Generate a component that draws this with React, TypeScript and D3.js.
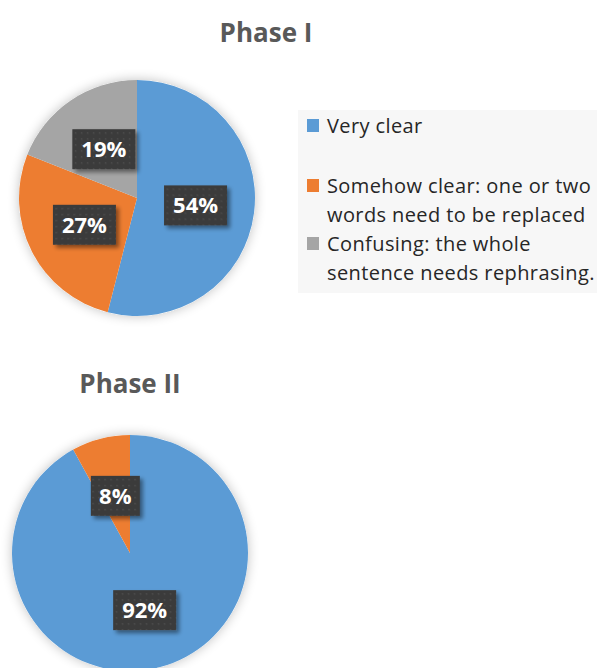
import React from "react";
import * as d3 from "d3";

const categories = [
  "Very clear",
  "Somehow clear: one or two words need to be replaced",
  "Confusing: the whole sentence needs rephrasing.",
];
const legendLines = [
  ["Very clear"],
  ["Somehow clear: one or two", "words need to be replaced"],
  ["Confusing: the whole", "sentence needs rephrasing."],
];
const colors = ["#5b9bd5", "#ed7d31", "#a5a5a5"];
const phase1Values = [54, 27, 19];
const phase2Values = [92, 8, 0];
const titles = ["Phase I", "Phase II"];

const W = 597;
const H = 668;

function Pie({ values, cx, cy, r }: { values: number[]; cx: number; cy: number; r: number }) {
  const pie = d3.pie<number>().sort(null).value((d) => d)(values);
  const arc = d3.arc<d3.PieArcDatum<number>>().innerRadius(0).outerRadius(r);
  return (
    <g transform={`translate(${cx},${cy})`}>
      <circle r={r} fill="#fff" filter="url(#pieShadow)" />
      {pie.map((p, i) =>
        p.value > 0 ? <path key={i} d={arc(p) || ""} fill={colors[i]} /> : null
      )}
      {pie.map((p, i) => {
        if (p.value <= 0) return null;
        const [x, y] = arc.centroid(p);
        const label = `${p.value}%`;
        const bw = label.length === 2 ? 49 : 63;
        const bh = 40;
        return (
          <g key={"l" + i} transform={`translate(${x},${y})`}>
            <rect x={-bw / 2} y={-bh / 2} width={bw} height={bh} fill="url(#dots)" filter="url(#boxShadow)" />
            <text
              x={0}
              y={8}
              textAnchor="middle"
              fill="#fff"
              fontFamily="'Open Sans', sans-serif"
              fontWeight={700}
              fontSize={22}
            >
              {label}
            </text>
          </g>
        );
      })}
    </g>
  );
}

export default function App() {
  const legendY = [133, 193, 251];
  return (
    <svg width={W} height={H} style={{ position: "absolute", left: 0, top: 0, background: "#fff" }}>
      <defs>
        <filter id="pieShadow" x="-30%" y="-30%" width="160%" height="160%">
          <feGaussianBlur in="SourceAlpha" stdDeviation="6" />
          <feOffset dx="0" dy="0" result="b" />
          <feComponentTransfer>
            <feFuncA type="linear" slope="0.25" />
          </feComponentTransfer>
          <feMerge>
            <feMergeNode />
            <feMergeNode in="SourceGraphic" />
          </feMerge>
        </filter>
        <filter id="boxShadow" x="-30%" y="-30%" width="170%" height="170%">
          <feGaussianBlur in="SourceAlpha" stdDeviation="2" />
          <feOffset dx="3" dy="3" />
          <feComponentTransfer>
            <feFuncA type="linear" slope="0.45" />
          </feComponentTransfer>
          <feMerge>
            <feMergeNode />
            <feMergeNode in="SourceGraphic" />
          </feMerge>
        </filter>
        <pattern id="dots" width="6" height="6" patternUnits="userSpaceOnUse">
          <rect width="6" height="6" fill="#3b3b3b" />
          <rect x="1" y="1" width="1.5" height="1.5" fill="#4d4d4d" />
        </pattern>
      </defs>

      <text x={266} y={42} textAnchor="middle" fontFamily="'Open Sans', sans-serif" fontWeight={700} fontSize={26} fill="#595959">
        {titles[0]}
      </text>
      <Pie values={phase1Values} cx={137} cy={198} r={118} />

      <rect x={298} y={110} width={299} height={183} fill="#f7f7f7" />
      {legendLines.map((lines, i) => (
        <g key={i}>
          <rect x={307} y={legendY[i] - 14} width={12} height={13} fill={colors[i]}>
            <title>{categories[i]}</title>
          </rect>
          {lines.map((ln, j) => (
            <text key={j} x={327} y={legendY[i] + j * 29} fontFamily="'Open Sans', sans-serif" fontSize={20} letterSpacing={0.4} fill="#262626">
              {ln}
            </text>
          ))}
        </g>
      ))}

      <text x={130} y={393} textAnchor="middle" fontFamily="'Open Sans', sans-serif" fontWeight={700} fontSize={26} fill="#595959">
        {titles[1]}
      </text>
      <Pie values={phase2Values} cx={130} cy={553} r={118} />
    </svg>
  );
}
